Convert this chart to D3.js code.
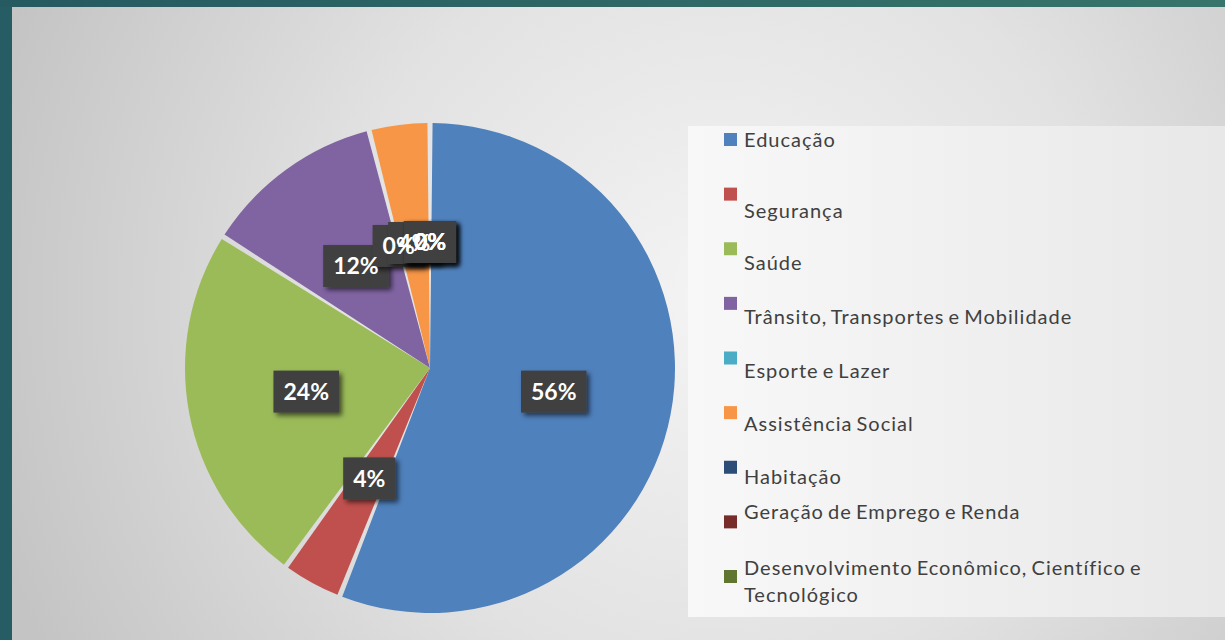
<!DOCTYPE html>
<html>
<head>
<meta charset="utf-8">
<script src="https://cdn.jsdelivr.net/npm/d3@7"></script>
<style>
    html, body { margin: 0; padding: 0; background: #265c63; }
    svg { display: block; }
</style>
</head>
<body>
<svg id="chart" width="1225" height="640"></svg>
<script>
// ----------------------------
// Chart data
// ----------------------------
const categories = [
    "Educação",
    "Segurança",
    "Saúde",
    "Trânsito, Transportes e Mobilidade",
    "Esporte e Lazer",
    "Assistência Social",
    "Habitação",
    "Geração de Emprego e Renda",
    "Desenvolvimento Econômico, Científico e Tecnológico"
];
const counts = [14, 1, 6, 3, 0, 1, 0, 0, 0];
const sliceColors = ["#4f81bd", "#c0504d", "#9bbb59", "#8064a2", "#4bacc6",
                     "#f79646", "#2c4d75", "#772c2a", "#5f7530"];

// legend label wrapping, as in the original
const legendLines = [
    ["Educação"],
    ["Segurança"],
    ["Saúde"],
    ["Trânsito, Transportes e Mobilidade"],
    ["Esporte e Lazer"],
    ["Assistência Social"],
    ["Habitação"],
    ["Geração de Emprego e Renda"],
    ["Desenvolvimento Econômico, Científico e", "Tecnológico"]
];

const width = 1225, height = 640;
const svg = d3.select("#chart");
const defs = svg.append("defs");

// ----------------------------
// Background
// ----------------------------
const topGrad = defs.append("linearGradient").attr("id", "topGrad");
topGrad.append("stop").attr("offset", "0%").attr("stop-color", "#265a61");
topGrad.append("stop").attr("offset", "100%").attr("stop-color", "#37746b");

const panelGrad = defs.append("radialGradient").attr("id", "panelGrad")
    .attr("gradientUnits", "userSpaceOnUse")
    .attr("cx", 720).attr("cy", 300).attr("r", 760);
panelGrad.append("stop").attr("offset", "0%").attr("stop-color", "#f4f4f4");
panelGrad.append("stop").attr("offset", "50%").attr("stop-color", "#e2e2e2");
panelGrad.append("stop").attr("offset", "100%").attr("stop-color", "#c4c4c4");

const legendGrad = defs.append("linearGradient").attr("id", "legendGrad");
legendGrad.append("stop").attr("offset", "0%").attr("stop-color", "#f8f8f8");
legendGrad.append("stop").attr("offset", "100%").attr("stop-color", "#e8e8e8");

const shadow = defs.append("filter").attr("id", "shadow")
    .attr("x", "-30%").attr("y", "-30%").attr("width", "160%").attr("height", "160%");
shadow.append("feDropShadow")
    .attr("dx", 3).attr("dy", 3).attr("stdDeviation", 2.5)
    .attr("flood-color", "#000").attr("flood-opacity", 0.6);

svg.append("rect").attr("width", width).attr("height", 7).attr("fill", "url(#topGrad)");
svg.append("rect").attr("x", 12).attr("y", 7)
    .attr("width", width - 12).attr("height", height - 7)
    .attr("fill", "url(#panelGrad)");

// ----------------------------
// Pie
// ----------------------------
const cx = 430, cy = 368, radius = 245;
const total = d3.sum(counts);
const data = categories.map((c, i) => ({ name: c, value: counts[i], color: sliceColors[i] }));

const pie = d3.pie().sort(null).value(d => d.value);
const arcs = pie(data);

const arc = d3.arc()
    .innerRadius(0)
    .outerRadius(radius)
    .padAngle(0.021)
    .padRadius(radius);

const labelArc = d3.arc().innerRadius(126).outerRadius(126);

const pieG = svg.append("g").attr("transform", `translate(${cx},${cy})`);

pieG.selectAll(".slice")
    .data(arcs)
    .join("path")
    .attr("class", "slice")
    .attr("d", arc)
    .attr("fill", d => d.data.color);

// Data labels: all boxes first, then all texts on top (as Excel draws them)
const fmt = d3.format(".0%");
const boxLayer = pieG.append("g");
const textLayer = pieG.append("g");

arcs.forEach(d => {
    const [x, y] = labelArc.centroid(d);
    const box = boxLayer.append("rect")
        .attr("fill", "#404040")
        .attr("filter", "url(#shadow)");
    const t = textLayer.append("text")
        .attr("x", x)
        .attr("y", y)
        .attr("text-anchor", "middle")
        .attr("dy", "0.36em")
        .attr("fill", "#ffffff")
        .style("font-family", "Lato, 'Open Sans', sans-serif")
        .style("font-weight", "bold")
        .style("font-size", "23px")
        .text(fmt(d.data.value / total));
    const w = t.node().getComputedTextLength() + 20;
    box.attr("x", x - w / 2).attr("y", y - 21).attr("width", w).attr("height", 42);
});

// ----------------------------
// Legend
// ----------------------------
const legendX = 688, legendTop = 126, legendBottom = 617;
svg.append("rect")
    .attr("x", legendX).attr("y", legendTop)
    .attr("width", width - legendX).attr("height", legendBottom - legendTop)
    .attr("fill", "url(#legendGrad)");

const legendY = d3.scalePoint().domain(categories).range([133, 570]);
// text baseline relative to the swatch top (Excel's uneven wrapping)
const textShift = [14, 30, 28, 27, 26, 25, 23, 4, 5];

const legend = svg.append("g").attr("class", "legend");
const items = legend.selectAll(".item")
    .data(data)
    .join("g")
    .attr("class", "item");

items.append("rect")
    .attr("x", 724)
    .attr("y", d => legendY(d.name))
    .attr("width", 13).attr("height", 13)
    .attr("fill", d => d.color);

items.append("text")
    .attr("x", 744)
    .attr("y", (d, i) => legendY(d.name) + textShift[i])
    .attr("fill", "#404040")
    .style("font-family", "Lato, 'Open Sans', sans-serif")
    .style("font-size", "20px")
    .style("letter-spacing", "1px")
    .style("word-spacing", "-2px")
    .selectAll("tspan")
    .data((d, i) => legendLines[i])
    .join("tspan")
    .attr("x", 744)
    .attr("dy", (d, j) => j === 0 ? 0 : 27)
    .text(d => d);
</script>
</body>
</html>
